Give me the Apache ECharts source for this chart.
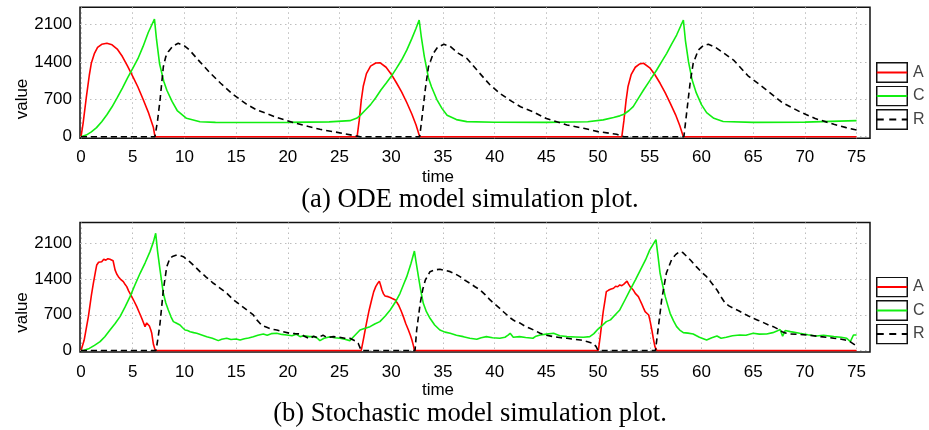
<!DOCTYPE html>
<html><head><meta charset="utf-8">
<script src="https://cdn.jsdelivr.net/npm/echarts@6/dist/echarts.min.js"></script>
<style>html,body{margin:0;padding:0;background:#fff}#c{width:929px;height:430px}</style>
</head><body><div id="c"></div>
<script>
const xTicks = [0,5,10,15,20,25,30,35,40,45,50,55,60,65,70,75];
const yTicks = [0,700,1400,2100];
const seriesNames = ['A','C','R'];
const axisTitles = {x:'time', y:'value'};
const captions = ['(a) ODE model simulation plot.', '(b) Stochastic model simulation plot.'];

// (a) ODE model
const odeA_t = [0,0.2,0.5,0.8,1.0,1.3,1.6,2.0,2.5,3.0,3.5,4.0,4.5,5.0,5.5,6.0,6.5,7.0,7.15,26.7,26.9,27.1,27.3,27.6,28.0,28.5,28.9,29.5,30.0,30.5,31.0,31.5,32.0,32.4,32.75,52.3,52.5,52.7,52.9,53.2,53.6,54.0,54.4,55.0,55.5,56.0,56.5,57.0,57.5,57.9,58.25,75];
const odeA_v = [0,250,720,1150,1380,1560,1670,1730,1750,1720,1640,1500,1320,1130,930,700,460,170,0,0,300,680,950,1180,1320,1380,1385,1300,1170,1010,840,640,420,220,0,0,300,660,940,1160,1300,1360,1375,1290,1160,1000,820,620,410,210,0,0];
const odeC_t = [0,0.5,1,1.5,2,2.5,3,3.5,4,4.5,5,5.5,6,6.5,7.1,7.3,7.6,8.0,8.3,8.8,9.3,10.2,11.5,13,16,20,24,26,26.7,27,27.5,28,28.5,29,29.5,30,30.5,31,31.5,32,32.4,32.7,32.9,33.2,33.6,33.9,34.4,34.9,35.4,36.3,37.3,40,45,49,50.5,51.5,52.1,52.5,53,53.4,54,54.4,55,55.67,56.2,56.64,57.1,57.6,58.25,58.45,58.75,59.1,59.5,60.0,60.5,61.2,62.1,65,70,75];
const odeC_v = [0,30,90,170,280,410,560,730,910,1100,1280,1460,1690,1950,2200,1820,1360,1040,870,660,490,345,280,268,265,268,278,300,350,400,500,600,730,874,1000,1130,1280,1435,1620,1840,2030,2184,1880,1500,1100,930,700,530,400,320,282,270,268,280,315,360,390,420,490,562,750,874,1050,1248,1420,1560,1730,1903,2184,1800,1400,1060,820,600,450,345,285,268,272,300];
const odeR_t = [0,7.15,7.4,7.64,7.96,8.2,8.44,8.9,9.4,10,10.5,11.5,12.5,13.5,14.7,16,17,18,19,20.5,22,23.1,24.4,25.5,26.7,27,32.75,33.0,33.3,33.6,34.07,34.5,35.1,35.7,36.5,37.3,38.5,39.5,40.5,41.5,42.5,43.7,45,46,47,48.6,50,51.8,52.3,52.5,58.3,58.6,58.9,59.2,59.7,60.2,60.67,61.3,62.2,63.1,64.5,66.3,67.8,69.5,71,72.8,74,75];
const odeR_v = [0,0,300,687,1310,1500,1591,1700,1748,1700,1620,1400,1190,1000,790,610,500,430,355,265,190,138,94,55,10,0,0,400,900,1310,1560,1680,1729,1690,1560,1467,1200,980,812,680,560,468,340,281,220,157,95,45,10,0,0,500,1000,1373,1622,1710,1729,1680,1560,1435,1140,874,640,468,340,232,170,125];

// (b) Stochastic model
const stoA_t = [0,0.3,0.71,1.0,1.19,1.4,1.52,1.7,1.84,2.0,2.2,2.4,2.6,2.8,2.96,3.1,3.29,3.45,3.61,3.8,4.09,4.25,4.42,4.6,4.9,5.1,5.39,5.6,5.87,6.05,6.19,6.35,6.5,6.61,6.75,6.84,7.0,7.18,27.1,27.35,27.6,27.85,28.1,28.3,28.5,28.7,28.85,29.0,29.1,29.25,29.4,29.55,29.7,29.9,30.1,30.4,30.55,30.7,30.95,31.17,31.4,31.66,31.85,32.0,32.15,32.24,50.03,50.2,50.36,50.5,50.68,50.8,51.0,51.2,51.35,51.5,51.7,51.9,52.1,52.3,52.5,52.65,52.8,52.95,53.1,53.25,53.4,53.6,53.9,54.05,54.2,54.4,54.55,54.7,54.9,55.05,55.2,55.35,55.5,55.68,75];
const stoA_v = [0,200,664,1080,1318,1550,1677,1730,1762,1740,1790,1770,1800,1790,1827,1760,1580,1500,1448,1400,1350,1300,1252,1170,1056,980,860,760,631,540,467,540,530,480,400,337,120,0,0,260,533,780,991,1150,1252,1320,1360,1260,1187,1110,1069,1075,1056,1040,1020,991,940,893,780,664,530,402,300,206,90,0,0,260,533,760,991,1154,1180,1200,1230,1220,1260,1250,1285,1270,1300,1290,1360,1300,1252,1220,1187,1120,1056,990,925,830,761,730,696,560,402,230,75,0,0];
const stoC_t = [0,0.3,0.8,1.3,1.84,2.3,2.8,3.3,3.77,4.25,4.74,5.2,5.71,6.2,6.67,7.0,7.22,7.4,7.64,7.96,8.2,8.44,8.7,8.93,9.2,9.57,9.8,10.06,10.3,10.55,10.9,11.19,11.6,12.16,12.7,13.28,13.6,14.09,14.5,15.0,15.38,15.8,16.2,16.66,17.1,17.63,18.0,18.4,18.93,19.4,19.89,20.4,20.8,21.18,21.6,22.1,22.47,22.8,23.1,23.5,24.1,24.5,25.05,25.5,26.0,26.4,26.98,27.4,27.95,28.4,28.9,29.4,29.9,30.4,30.85,31.2,31.5,31.9,32.24,32.4,32.63,32.85,33.1,33.4,33.75,34.2,34.7,35.2,35.7,36.3,36.97,37.6,38.27,38.7,39.2,39.8,40.5,41.0,41.3,41.5,41.8,42.4,43.0,43.7,44.0,44.4,45.0,45.7,46.3,47.0,47.8,48.6,49.2,49.6,50.0,50.4,50.8,51.2,51.8,52.1,52.6,53.1,53.6,54.1,54.6,55.0,55.6,55.8,56.0,56.25,56.5,56.75,56.97,57.3,57.6,57.9,58.25,58.7,59.2,59.8,60.5,61.0,61.5,61.9,62.4,63.0,63.7,64.3,65.0,65.6,66.3,66.9,67.3,67.6,67.85,68.1,68.6,69.5,70.3,71.1,71.8,72.8,73.5,74.05,74.4,74.7,75];
const stoC_v = [0,5,40,100,173,270,402,530,664,850,1056,1280,1514,1720,1939,2130,2298,1950,1579,1121,930,794,660,566,540,500,450,402,390,369,350,337,310,271,240,193,220,239,215,225,206,230,245,271,300,324,300,330,337,315,304,290,320,271,290,271,271,250,193,239,271,250,239,220,193,280,402,430,467,520,566,670,794,950,1121,1300,1448,1700,1950,1740,1448,1180,925,760,631,500,402,360,337,300,271,240,219,250,271,250,239,260,300,337,260,271,255,239,280,304,320,337,290,271,265,258,271,330,420,490,566,600,729,794,990,1187,1380,1579,1780,1972,2175,1850,1514,1280,1056,880,729,580,467,400,350,340,324,260,206,250,284,240,258,290,304,300,337,320,324,350,380,410,280,390,369,337,310,284,300,271,260,239,173,304,304];
const stoR_t = [0,7.25,7.45,7.64,7.96,8.29,8.6,8.9,9.25,9.6,9.9,10.2,10.5,11.0,11.5,12.1,12.8,13.4,14.1,14.7,15.4,16.0,16.66,17.0,17.3,17.6,17.96,18.4,18.93,19.5,20.2,20.7,21.2,21.6,22.1,22.5,22.9,23.4,23.8,24.4,25.0,25.5,26.0,26.5,26.8,27.1,32.3,32.46,32.8,33.05,33.3,33.75,34.2,34.7,35.2,35.7,36.2,36.65,37.1,37.6,38.1,38.6,39.1,39.56,40.0,40.5,40.9,41.2,41.5,41.8,42.1,42.5,42.9,43.4,43.9,44.4,45.0,45.7,46.4,47.0,47.6,48.3,49.0,49.5,49.8,50.0,55.55,55.8,56.15,56.6,57.1,57.5,57.9,58.2,58.6,59.0,59.5,60.0,60.5,61.0,61.5,61.9,62.3,62.7,63.1,63.6,64.05,64.5,65.0,65.5,66.0,66.5,66.95,67.4,67.8,68.2,68.6,69.4,70.2,70.8,71.5,72.2,72.8,73.4,73.9,74.4,74.85];
const stoR_v = [0,0,250,533,1187,1644,1808,1850,1873,1860,1840,1790,1742,1650,1546,1440,1318,1230,1121,1000,892,800,696,600,533,480,454,420,402,370,337,330,324,280,230,280,250,300,250,271,260,240,239,190,141,0,0,402,925,1200,1383,1546,1580,1592,1570,1546,1500,1448,1380,1318,1250,1187,1090,991,910,827,750,696,640,598,560,533,480,435,390,337,300,271,250,239,220,206,170,141,80,0,0,402,991,1514,1775,1880,1939,1920,1840,1760,1644,1540,1448,1320,1187,1050,925,870,827,780,729,680,631,590,546,500,467,420,369,340,324,315,304,290,271,255,239,225,206,170,108];

const styles = {
  A: {color:'#ff0000', type:'solid'},
  C: {color:'#11ee11', type:'solid'},
  R: {color:'#000000', type:[6,4]}
};

function pairs(t, v){ return t.map((x, i) => [x, v[i]]); }
function ser(name, gi, t, v){
  const s = styles[name];
  return {name, type:'line', xAxisIndex:gi, yAxisIndex:gi, data:pairs(t, v),
    showSymbol:false, symbol:'none', animation:false, clip:true,
    lineStyle:{color:s.color, width:1.6, type:s.type}, itemStyle:{color:s.color}};
}
// legend glyph: framed box with the series' line through it
function legendIcon(name){
  const s = styles[name];
  const dash = Array.isArray(s.type) ? ' stroke-dasharray="7 5.5"' : '';
  const svg = '<svg xmlns="http://www.w3.org/2000/svg" width="64" height="42" viewBox="0 0 32 21">' +
    '<rect x="0.75" y="0.75" width="30.5" height="19.5" fill="none" stroke="#111" stroke-width="1.5"/>' +
    '<line x1="0.75" y1="10.5" x2="31.25" y2="10.5" stroke="' + s.color + '" stroke-width="2"' + dash + '/></svg>';
  return 'image://data:image/svg+xml;charset=utf-8,' + encodeURIComponent(svg);
}
const sans = 'Liberation Sans';
const gridLine = {show:true, lineStyle:{color:'#bdbdbd', type:[1.5,3.5], width:1}};
function xAx(gi, margin){
  return {type:'value', gridIndex:gi, min:-0.1, max:76.3,
    axisLine:{show:false}, axisTick:{show:false, customValues:xTicks},
    axisLabel:{customValues:xTicks, margin, color:'#000', fontSize:17, fontFamily:sans, formatter:v => String(v)},
    splitLine:gridLine};
}
function yAx(gi, max){
  return {type:'value', gridIndex:gi, min:-30, max,
    axisLine:{show:false}, axisTick:{show:false, customValues:yTicks},
    axisLabel:{customValues:yTicks, margin:8, color:'#000', fontSize:17, fontFamily:sans, formatter:v => String(v)},
    splitLine:gridLine};
}
function legend(top){
  return {orient:'vertical', left:876, top, itemWidth:32, itemHeight:21, itemGap:2.5,
    padding:0, selectedMode:false,
    data:seriesNames.map(n => ({name:n, icon:legendIcon(n)})),
    textStyle:{fontSize:16, fontFamily:sans, color:'#444'}};
}
function txt(x, y, text, size, family, rot){
  return {type:'text', x, y, rotation:rot || 0, silent:true,
    style:{text, fontSize:size, fontFamily:family, fill:'#000', align:'center', verticalAlign:'middle'}};
}

const chart = echarts.init(document.getElementById('c'), null, {renderer:'canvas'});
chart.setOption({
  backgroundColor:'#fff',
  animation:false,
  grid:[
    {left:80, right:59, top:7.3, height:131, show:true, borderColor:'#111', borderWidth:1.5, backgroundColor:'#fff'},
    {left:80, right:59, top:222.5, height:129.5, show:true, borderColor:'#111', borderWidth:1.5, backgroundColor:'#fff'}
  ],
  xAxis:[xAx(0, 10.5), xAx(1, 11.5)],
  yAxis:[yAx(0, 2422), yAx(1, 2510)],
  legend:[legend(62), legend(276.5)],
  series:[
    ser('A', 0, odeA_t, odeA_v), ser('C', 0, odeC_t, odeC_v), ser('R', 0, odeR_t, odeR_v),
    ser('A', 1, stoA_t, stoA_v), ser('C', 1, stoC_t, stoC_v), ser('R', 1, stoR_t, stoR_v)
  ],
  graphic:[
    txt(22.5, 99, axisTitles.y, 17, sans, Math.PI/2),
    txt(22.5, 312.5, axisTitles.y, 17, sans, Math.PI/2),
    txt(438, 177, axisTitles.x, 17, sans),
    txt(438, 390.5, axisTitles.x, 17, sans),
    txt(470, 200.4, captions[0], 26.6, 'Liberation Serif'),
    txt(470, 414.4, captions[1], 26.6, 'Liberation Serif')
  ]
});
</script></body></html>
